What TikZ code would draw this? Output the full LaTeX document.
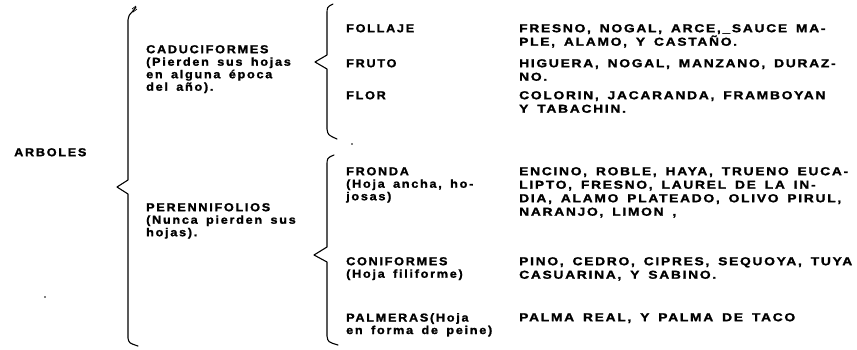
\documentclass[tikz,border=0pt]{standalone}
\usepackage{fontspec}
\newfontfamily\rf{Liberation Sans}[FakeStretch=1.1,LetterSpace=15,WordSpace=1.6,FakeBold=1.5]
\newfontfamily\rfw{Liberation Sans}[FakeStretch=1.2,LetterSpace=15,WordSpace=1.6,FakeBold=1.5]
\begin{document}
\begin{tikzpicture}[x=1pt,y=-1pt,
  txt/.style={anchor=north west,inner sep=0pt,align=left,font=\rf\bfseries\fontsize{11.5}{12.5}\selectfont},
  rtxt/.style={txt,font=\rfw\bfseries\fontsize{11.5}{13.5}\selectfont},
  brc/.style={line width=1.1pt,line cap=round,line join=round}]
\useasboundingbox (0,0) rectangle (857,349);
% labels
\node[txt] (arb) at (14,148) {ARBOLES};
\node[txt] (cad) at (146,45) {CADUCIFORMES\\(Pierden sus hojas\\en alguna época\\del año).};
\node[txt] (per) at (146,203) {PERENNIFOLIOS\\(Nunca pierden sus\\hojas).};
\node[txt] (fol) at (346,24) {FOLLAJE};
\node[txt] (fru) at (346,59) {FRUTO};
\node[txt] (flo) at (346,91) {FLOR};
\node[txt] (fro) at (346,167) {FRONDA\\(Hoja ancha, ho-\\josas)};
\node[txt] (con) at (346,257) {CONIFORMES\\(Hoja filiforme)};
\node[txt] (pal) at (346,313) {PALMERAS(Hoja\\en forma de peine)};
\node[rtxt] (lfol) at (519,24) {FRESNO, NOGAL, ARCE,\_SAUCE MA-\\PLE, ALAMO, Y CASTAÑO.};
\node[rtxt] (lfru) at (519,59) {HIGUERA, NOGAL, MANZANO, DURAZ-\\NO.};
\node[rtxt] (lflo) at (519,91) {COLORIN, JACARANDA, FRAMBOYAN\\Y TABACHIN.};
\node[rtxt] (lfro) at (519,167) {ENCINO, ROBLE, HAYA, TRUENO EUCA-\\LIPTO, FRESNO, LAUREL DE LA IN-\\DIA, ALAMO PLATEADO, OLIVO PIRUL,\\NARANJO, LIMON ,};
\node[rtxt] (lcon) at (519,257) {PINO, CEDRO, CIPRES, SEQUOYA, TUYA\\CASUARINA, Y SABINO.};
\node[rtxt] (lpal) at (519,313) {PALMA REAL, Y PALMA DE TACO};
% big brace
\draw[brc] (136,7) -- (133,11) .. controls (129,15) .. (128,20) -- (128,180) -- (117,187) -- (128,194) -- (128,338) .. controls (129,343) .. (138,346);
\draw[line width=0.7pt] (132,9) -- (136,6) (133,12) -- (137,9);
% brace 2
\draw[brc] (333,4) .. controls (327,7) .. (327,15) -- (327,55) -- (315,62) -- (327,69) -- (327,129) .. controls (328,135) .. (337,139);
% brace 3
\draw[brc] (334,155) .. controls (327,158) .. (327,166) -- (327,247) -- (314,255) -- (327,262) -- (327,336) .. controls (328,342) .. (338,345);
% specks
\fill (352,144) circle (0.9pt);
\fill (45,297) circle (0.8pt);
\end{tikzpicture}
\end{document}
